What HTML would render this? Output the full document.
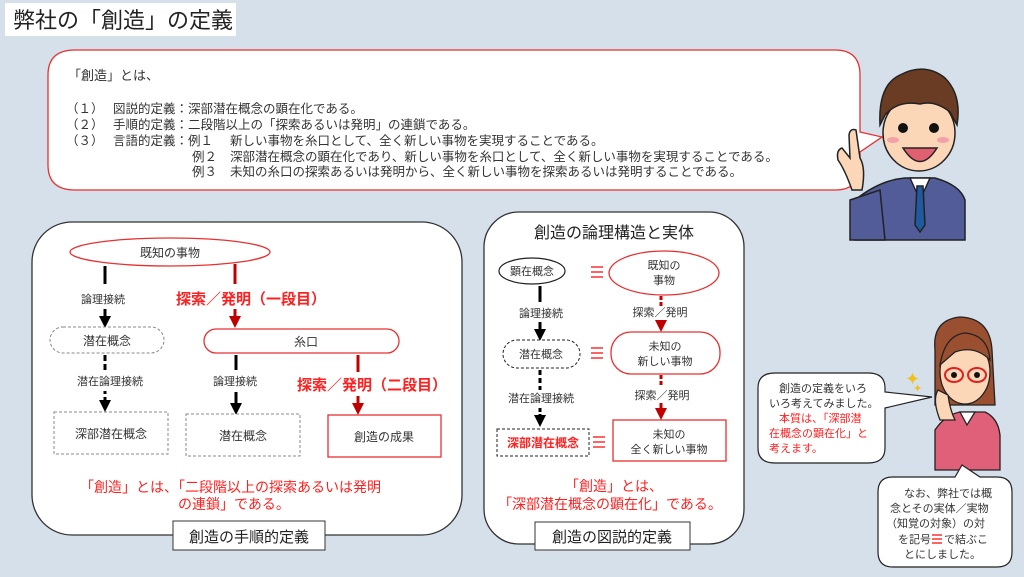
<!DOCTYPE html>
<html><head><meta charset="utf-8"><style>
html,body{margin:0;padding:0;}
body{width:1024px;height:577px;overflow:hidden;background:#d5e0ea;font-family:"Liberation Sans","Noto Sans CJK JP",sans-serif;}
svg{display:block}
text{font-family:"Liberation Sans","Noto Sans CJK JP",sans-serif;}
</style></head><body>
<svg width="1024" height="577" viewBox="0 0 1024 577" xmlns="http://www.w3.org/2000/svg">
<defs>
<marker id="ab" markerWidth="4" markerHeight="4" refX="2" refY="2" orient="auto" markerUnits="strokeWidth"><path d="M0,0 L4,2 L0,4z" fill="#000"/></marker>
<marker id="ar" markerWidth="4" markerHeight="4" refX="2" refY="2" orient="auto" markerUnits="strokeWidth"><path d="M0,0 L4,2 L0,4z" fill="#c00000"/></marker>
</defs>
<rect width="1024" height="577" fill="#d5e0ea"/>
<rect x="5" y="3" width="231" height="33" fill="#fff"/>
<text x="13" y="28" font-size="22" fill="#222">弊社の「創造」の定義</text>

<path d="M75,50 H835 Q860,50 860,75 V132 L882,137 L860,152 V165 Q860,190 835,190 H75 Q48,190 48,165 V75 Q48,50 75,50Z" fill="#fff" stroke="#e83030" stroke-width="1.3"/>
<g font-size="12.5" fill="#333">
<text x="68" y="80" font-size="13">「創造」とは、</text>
<text x="66" y="113">（１）</text><text x="113" y="113">図説的定義：深部潜在概念の顕在化である。</text>
<text x="66" y="129">（２）</text><text x="113" y="129">手順的定義：二段階以上の「探索あるいは発明」の連鎖である。</text>
<text x="66" y="145">（３）</text><text x="113" y="145">言語的定義：例１</text><text x="230" y="145">新しい事物を糸口として、全く新しい事物を実現することである。</text>
<text x="192" y="161">例２</text><text x="230" y="161">深部潜在概念の顕在化であり、新しい事物を糸口として、全く新しい事物を実現することである。</text>
<text x="192" y="176">例３</text><text x="230" y="176">未知の糸口の探索あるいは発明から、全く新しい事物を探索あるいは発明することである。</text>
</g>

<g stroke="#222" stroke-width="1.5">
<path d="M855,200 Q880,180 905,178 L935,178 Q960,185 965,200 V240 H855Z" fill="#515c98"/>
<path d="M910,178 L920,200 L930,178Z" fill="#fff"/>
<path d="M917,186 L923,186 L925,225 L920,232 L915,225Z" fill="#1f5aa0"/>
<path d="M850,200 L880,190 L885,240 H850Z" fill="#515c98"/>
<path d="M852,190 Q845,170 838,160 Q836,150 842,148 L850,158 L849,135 Q850,128 856,130 L860,158 Q866,168 862,190Z" fill="#fbd7b8"/>
<ellipse cx="919" cy="133" rx="36" ry="38" fill="#fbd7b8"/>
<path d="M880,125 Q878,85 900,75 Q925,62 945,78 Q962,95 957,125 L950,112 Q935,100 920,104 Q898,100 885,115Z" fill="#6a3c24"/>
<path d="M903,148 Q920,175 937,148Z" fill="#e06070"/>
</g>
<circle cx="903" cy="128" r="5" fill="#111"/><circle cx="934" cy="128" r="5" fill="#111"/>
<ellipse cx="893" cy="140" rx="6" ry="3" fill="#f4a0a8"/><ellipse cx="943" cy="140" rx="6" ry="3" fill="#f4a0a8"/>

<rect x="32" y="222" width="430" height="313" rx="40" fill="#fff" stroke="#333" stroke-width="1.3"/>
<rect x="173" y="521" width="152" height="29" fill="#fff" stroke="#333" stroke-width="1"/>
<text x="249" y="542" font-size="15" fill="#222" text-anchor="middle">創造の手順的定義</text>
<ellipse cx="170" cy="252" rx="100" ry="14" fill="#fff" stroke="#e83030" stroke-width="1.3"/>
<text x="170" y="257" font-size="12" fill="#333" text-anchor="middle">既知の事物</text>
<line x1="105" y1="266" x2="105" y2="284" stroke="#000" stroke-width="3"/>
<text x="103" y="303" font-size="11" fill="#333" text-anchor="middle">論理接続</text>
<line x1="105" y1="309" x2="105" y2="322" stroke="#000" stroke-width="3" marker-end="url(#ab)"/>
<rect x="50" y="327" width="114" height="26" rx="13" fill="#fff" stroke="#888" stroke-dasharray="3,2"/>
<text x="107" y="345" font-size="12" fill="#333" text-anchor="middle">潜在概念</text>
<line x1="105" y1="355" x2="105" y2="370" stroke="#000" stroke-width="3" stroke-dasharray="6,3"/>
<text x="110" y="385" font-size="11" fill="#333" text-anchor="middle">潜在論理接続</text>
<line x1="105" y1="391" x2="105" y2="406" stroke="#000" stroke-width="3" stroke-dasharray="3,3" marker-end="url(#ab)"/>
<rect x="54" y="412" width="114" height="42" fill="#fff" stroke="#888" stroke-dasharray="3,2"/>
<text x="111" y="438" font-size="12" fill="#333" text-anchor="middle">深部潜在概念</text>
<line x1="235" y1="264" x2="235" y2="284" stroke="#c00000" stroke-width="3"/>
<text x="176" y="304" font-size="15" font-weight="bold" fill="#ff2020">探索／発明（一段目）</text>
<line x1="235" y1="309" x2="235" y2="322" stroke="#c00000" stroke-width="3" marker-end="url(#ar)"/>
<rect x="204" y="329" width="195" height="24" rx="12" fill="#fff" stroke="#e83030" stroke-width="1.3"/>
<text x="306" y="346" font-size="12" fill="#333" text-anchor="middle">糸口</text>
<line x1="236" y1="355" x2="236" y2="370" stroke="#000" stroke-width="3"/>
<text x="235" y="385" font-size="11" fill="#333" text-anchor="middle">論理接続</text>
<line x1="236" y1="392" x2="236" y2="409" stroke="#000" stroke-width="3" marker-end="url(#ab)"/>
<rect x="186" y="414" width="114" height="42" fill="#fff" stroke="#888" stroke-dasharray="3,2"/>
<text x="243" y="440" font-size="12" fill="#333" text-anchor="middle">潜在概念</text>
<line x1="358" y1="355" x2="358" y2="372" stroke="#c00000" stroke-width="3"/>
<text x="297" y="390" font-size="15" font-weight="bold" fill="#ff2020">探索／発明（二段目）</text>
<line x1="358" y1="396" x2="358" y2="409" stroke="#c00000" stroke-width="3" marker-end="url(#ar)"/>
<rect x="328" y="415" width="113" height="42" fill="#fff" stroke="#e83030" stroke-width="1.3"/>
<text x="384" y="441" font-size="12" fill="#333" text-anchor="middle">創造の成果</text>
<text x="80" y="492" font-size="14" fill="#ff2020">「創造」とは、「二段階以上の探索あるいは発明</text>
<text x="178" y="509" font-size="14" fill="#ff2020">の連鎖」である。</text>

<rect x="484" y="212" width="260" height="332" rx="35" fill="#fff" stroke="#333" stroke-width="1.3"/>
<rect x="535" y="522" width="155" height="28" fill="#fff" stroke="#333" stroke-width="1"/>
<text x="612" y="542" font-size="15" fill="#222" text-anchor="middle">創造の図説的定義</text>
<text x="614" y="238" font-size="16" fill="#222" text-anchor="middle">創造の論理構造と実体</text>
<ellipse cx="532" cy="271" rx="33" ry="13" fill="#fff" stroke="#222" stroke-width="1.2"/>
<text x="532" y="275" font-size="11" fill="#333" text-anchor="middle">顕在概念</text>
<ellipse cx="664" cy="273" rx="55" ry="22" fill="#fff" stroke="#e83030" stroke-width="1.3"/>
<text x="664" y="269" font-size="11" fill="#333" text-anchor="middle">既知の</text>
<text x="664" y="284" font-size="11" fill="#333" text-anchor="middle">事物</text>
<g stroke="#ff3030" stroke-width="1.6">
<path d="M591,267 h12 M591,272 h12 M591,277 h12"/>
<path d="M591,348 h12 M591,353 h12 M591,358 h12"/>
<path d="M593,437 h12 M593,442 h12 M593,447 h12"/>
</g>
<line x1="540" y1="286" x2="540" y2="302" stroke="#000" stroke-width="3"/>
<text x="541" y="317" font-size="11" fill="#333" text-anchor="middle">論理接続</text>
<line x1="540" y1="322" x2="540" y2="335" stroke="#000" stroke-width="3" marker-end="url(#ab)"/>
<rect x="503" y="340" width="77" height="28" rx="14" fill="#fff" stroke="#222" stroke-dasharray="3,2"/>
<text x="541" y="358" font-size="11" fill="#333" text-anchor="middle">潜在概念</text>
<line x1="540" y1="370" x2="540" y2="390" stroke="#000" stroke-width="3" stroke-dasharray="5,3"/>
<text x="541" y="402" font-size="11" fill="#333" text-anchor="middle">潜在論理接続</text>
<line x1="540" y1="408" x2="540" y2="421" stroke="#000" stroke-width="3" stroke-dasharray="4,2" marker-end="url(#ab)"/>
<rect x="497" y="429" width="92" height="27" fill="#fff" stroke="#222" stroke-dasharray="3,2"/>
<text x="543" y="447" font-size="12" font-weight="bold" fill="#ff2020" text-anchor="middle">深部潜在概念</text>
<line x1="661" y1="296" x2="661" y2="306" stroke="#c00000" stroke-width="3" stroke-dasharray="4,2"/>
<text x="660" y="316" font-size="11" fill="#333" text-anchor="middle">探索／発明</text>
<line x1="661" y1="320" x2="661" y2="326" stroke="#c00000" stroke-width="3" marker-end="url(#ar)"/>
<rect x="611" y="332" width="109" height="42" rx="20" fill="#fff" stroke="#e83030" stroke-width="1.3"/>
<text x="665" y="350" font-size="11" fill="#333" text-anchor="middle">未知の</text>
<text x="665" y="365" font-size="11" fill="#333" text-anchor="middle">新しい事物</text>
<line x1="661" y1="375" x2="661" y2="386" stroke="#c00000" stroke-width="3" stroke-dasharray="4,2"/>
<text x="662" y="399" font-size="11" fill="#333" text-anchor="middle">探索／発明</text>
<line x1="661" y1="403" x2="661" y2="414" stroke="#c00000" stroke-width="3" marker-end="url(#ar)"/>
<rect x="613" y="420" width="113" height="41" fill="#fff" stroke="#e83030" stroke-width="1.3"/>
<text x="669" y="438" font-size="11" fill="#333" text-anchor="middle">未知の</text>
<text x="669" y="453" font-size="11" fill="#333" text-anchor="middle">全く新しい事物</text>
<text x="614" y="491" font-size="14" fill="#ff2020" text-anchor="middle">「創造」とは、</text>
<text x="610" y="509" font-size="14" fill="#ff2020" text-anchor="middle">「深部潜在概念の顕在化」である。</text>

<g stroke="#222" stroke-width="1.3">
<path d="M935,430 Q945,415 960,412 L985,412 Q998,418 1000,435 V470 H935Z" fill="#e0607a"/>
<path d="M960,412 L967,425 L975,412Z" fill="#fff"/>
<path d="M935,350 Q932,320 960,317 Q990,318 992,350 L995,405 H935Z" fill="#9a5030"/>
<ellipse cx="965" cy="372" rx="25" ry="32" fill="#fbd7b8"/>
<path d="M940,365 Q945,335 965,333 Q988,335 990,360 Q975,345 955,352Z" fill="#9a5030"/>
<ellipse cx="954" cy="375" rx="9" ry="7" fill="none" stroke="#e02020" stroke-width="2"/>
<ellipse cx="977" cy="375" rx="9" ry="7" fill="none" stroke="#e02020" stroke-width="2"/>
<path d="M940,420 Q932,400 938,390 L948,395 Q950,410 955,420Z" fill="#fbd7b8"/>
</g>
<circle cx="954" cy="375" r="3" fill="#111"/><circle cx="977" cy="375" r="3" fill="#111"/>
<text x="905" y="385" font-size="18" fill="#f0c020">✦</text>
<text x="913" y="392" font-size="11" fill="#f0c020">✦</text>

<path d="M775,373 H868 Q885,373 885,388 V392 L932,397 L885,408 V448 Q885,463 868,463 H775 Q758,463 758,448 V388 Q758,373 775,373Z" fill="#fff" stroke="#222" stroke-width="1.2"/>
<g font-size="11" text-anchor="start">
<text x="779" y="392" fill="#333">創造の定義をいろ</text>
<text x="769" y="407" fill="#333">いろ考えてみました。</text>
<text x="779" y="422" fill="#ff2020">本質は、「深部潜</text>
<text x="769" y="437" fill="#ff2020">在概念の顕在化」と</text>
<text x="769" y="452" fill="#ff2020">考えます。</text>
</g>
<path d="M893,477 H955 L962,465 L980,477 H997 Q1012,477 1012,492 V552 Q1012,567 997,567 H893 Q878,567 878,552 V492 Q878,477 893,477Z" fill="#fff" stroke="#222" stroke-width="1.2"/>
<g font-size="11" fill="#333">
<text x="904" y="497">なお、弊社では概</text>
<text x="890" y="512">念とその実体／実物</text>
<text x="886" y="527">（知覚の対象）の対</text>
<text x="898" y="543">を記号</text>
<text x="944" y="543">で結ぶこ</text>
<text x="904" y="558">とにしました。</text>
</g>
<path d="M932,535 h10 M932,539 h10 M932,543 h10" stroke="#ff3030" stroke-width="1.4"/>
</svg>
</body></html>
